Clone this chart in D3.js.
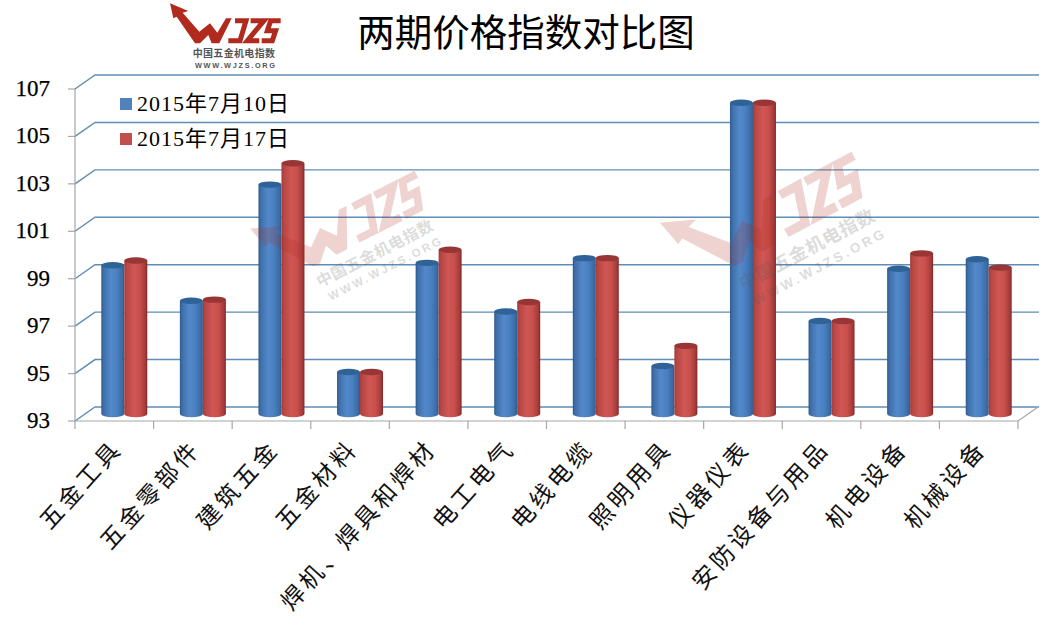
<!DOCTYPE html>
<html><head><meta charset="utf-8">
<script src="https://cdn.jsdelivr.net/npm/d3@7/dist/d3.min.js"></script>
<style>html,body{margin:0;padding:0;background:#fff}svg{display:block}</style></head>
<body><div id="c"></div>
<script>
const categories=["五金工具","五金零部件","建筑五金","五金材料","焊机、焊具和焊材","电工电气","电线电缆","照明用具","仪器仪表","安防设备与用品","机电设备","机械设备"];
const seriesNames=["2015年7月10日","2015年7月17日"];
const seriesA=[99.4,97.9,102.8,94.9,99.5,97.45,99.7,95.15,106.25,97.05,99.25,99.65];
const seriesB=[99.6,97.95,103.7,94.9,100.05,97.85,99.7,96,106.25,97.05,99.9,99.3];
const yTicks=[93,95,97,99,101,103,105,107];
const title="两期价格指数对比图";

const W=1051,H=617;
const font="'Liberation Serif','Noto Sans CJK SC',serif";
const svg=d3.select("#c").append("svg").attr("width",W).attr("height",H).attr("viewBox",[0,0,W,H]);
const x=d3.scaleBand().domain(categories).range([75,1018]);
const y=d3.scaleLinear().domain([93,107]).range([421,89]);
const dx=20,dy=-14;
const barDx=10,barDy=-4,baseDy=-7;
const inner=d3.scaleBand().domain([0,1]).range([-23,23]);

const defs=svg.append("defs");
function grad(id,stops){
  const g=defs.append("linearGradient").attr("id",id).attr("x1",0).attr("x2",1).attr("y1",0).attr("y2",0);
  stops.forEach(([o,c])=>g.append("stop").attr("offset",o).attr("stop-color",c));
}
grad("gA",[[0,"#2d5a8e"],[.1,"#3f6fa8"],[.42,"#5389cb"],[.68,"#4a80c0"],[.92,"#3a6aa2"],[1,"#2e5a8c"]]);
grad("gB",[[0,"#a03a38"],[.1,"#b74643"],[.42,"#cf5754"],[.68,"#c84f4c"],[.9,"#a63c3a"],[1,"#7f2b2a"]]);

const marks=svg.append("g");
yTicks.forEach(t=>{
  const yy=y(t);
  marks.append("path").attr("d",`M${x.range()[0]},${yy}L${x.range()[0]+dx},${yy+dy}L${x.range()[1]+dx+1},${yy+dy}`)
    .attr("fill","none").attr("stroke","#5f8db5").attr("stroke-width",1.4);
});
const ax=svg.append("g").attr("fill","none").attr("stroke","#a6a6a6").attr("stroke-width",1.2);
ax.append("path").attr("d",`M${x.range()[0]},${y(107)}V${y(93)}H${x.range()[1]}L${x.range()[1]+dx},${y(93)+dy}`);
yTicks.forEach(t=>ax.append("path").attr("d",`M${x.range()[0]-7},${y(t)}H${x.range()[0]}`));
[...categories.map(c=>x(c)),x.range()[1]].forEach(v=>ax.append("path").attr("d",`M${v},${y(93)}v8`));

// Bars
const rx=11.5,ry=3.2;
const bars=svg.append("g");
[[seriesA,"gA","#2f6296",0],[seriesB,"gB","#973634",1]].forEach(([vals,gid,top,idx])=>{
  const g=bars.append("g");
  categories.forEach((c,i)=>{
    const cx=x(c)+x.bandwidth()/2+barDx+inner(idx)+inner.bandwidth()/2;
    const yt=y(vals[i])+barDy, yb=y(93)+baseDy;
    g.append("path").attr("fill",`url(#${gid})`)
      .attr("d",`M${cx-rx},${yt}V${yb}A${rx},${ry} 0 0 0 ${cx+rx},${yb}V${yt}Z`);
    g.append("ellipse").attr("cx",cx).attr("cy",yt).attr("rx",rx).attr("ry",ry).attr("fill",top);
  });
});

// Logo, drawn in a 3x design grid
function logo(g){
  const r="#b02a1e", k="#555";
  const s=g.append("g").attr("transform","scale(0.3333)");
  s.append("path").attr("fill",r)
   .attr("d","M30,10L85,33L68,38L118,95L150,70L172,98L198,55L215,55L178,130L155,130L145,105L120,130L105,130L50,50L40,55Z");
  s.append("path").attr("fill","none").attr("stroke",r).attr("stroke-width",15).attr("stroke-linejoin","miter")
   .attr("d","M225,62H258L240,122H205M272,62H312L262,122H298M362,62H332L322,92H347L337,122H305");
  s.append("text").attr("x",98).attr("y",172).attr("font-family","'Noto Sans CJK SC'").attr("font-weight",700)
   .attr("font-size",30).attr("fill",k).attr("textLength",247).text("中国五金机电指数");
  s.append("text").attr("x",105).attr("y",204).attr("font-family","'Liberation Sans',sans-serif").attr("font-weight",700)
   .attr("font-size",22).attr("fill",k).attr("textLength",240).text("WWW.WJZS.ORG");
}
logo(svg.append("g").attr("transform","translate(160,0)"));
[[234,231,1.56,-27],[641,226,1.83,-28]].forEach(([a,b,s,r])=>{
  logo(svg.append("g").attr("transform",`translate(${a},${b}) rotate(${r}) scale(${s})`).attr("opacity",.2));
});

// Y labels
svg.append("g").selectAll("text").data(yTicks).join("text")
  .attr("x",50).attr("y",d=>y(d)+7).attr("text-anchor","end")
  .attr("font-family",font).attr("font-size",23).attr("stroke","#000").attr("stroke-width",.25).text(d=>d);

// X labels
svg.append("g").selectAll("text").data(categories).join("text")
  .attr("text-anchor","end").attr("font-family",font).attr("font-size",23.5).attr("letter-spacing",3.8).attr("fill","#111")
  .attr("transform",d=>`translate(${x(d)+x.bandwidth()/2+3},444) rotate(-48)`)
  .attr("dy","0.35em").text(d=>d);

// Legend
seriesNames.forEach((n,i)=>{
  const yy=104+i*35;
  svg.append("rect").attr("x",120).attr("y",yy-6).attr("width",12).attr("height",12).attr("fill",i?"#c0504d":"#4f81bd");
  svg.append("text").attr("x",137).attr("y",yy+7).attr("font-family",font).attr("font-size",22).attr("letter-spacing",1).text(n);
});

svg.append("text").attr("x",526).attr("y",46).attr("text-anchor","middle").attr("font-family",font).attr("font-size",37.5).text(title);
</script></body></html>
